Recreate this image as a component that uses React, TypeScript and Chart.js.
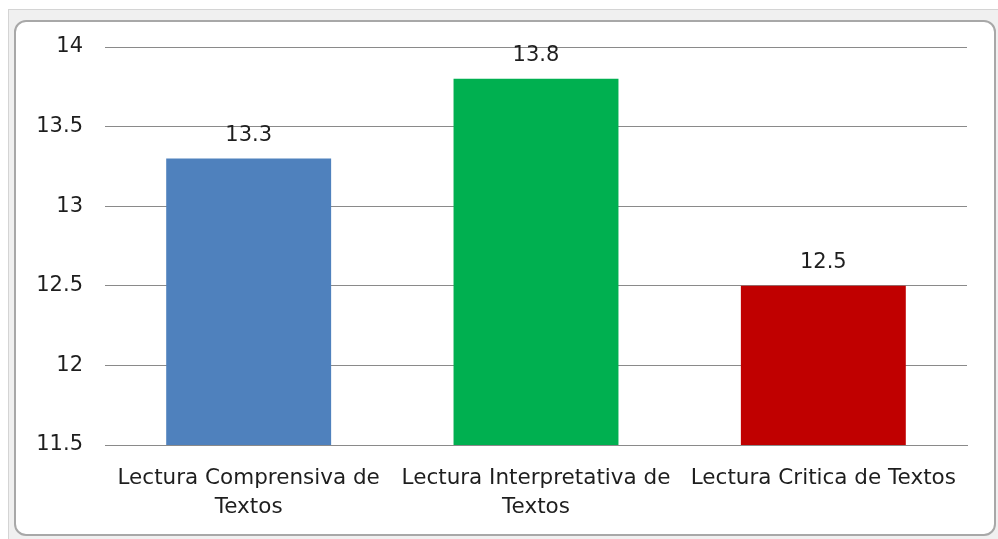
import React, { useEffect, useRef } from "react";
import { Chart, registerables } from "chart.js";

Chart.register(...registerables);

const categories: string[][] = [
  ["Lectura Comprensiva de", "Textos"],
  ["Lectura Interpretativa de", "Textos"],
  ["Lectura Critica de Textos"],
];
const values: number[] = [13.3, 13.8, 12.5];
const barColors: string[] = ["#4F81BD", "#00B050", "#C00000"];
const yMin = 11.5;
const yMax = 14;
const yStep = 0.5;

const FONT = "'DejaVu Sans', sans-serif";

const valueLabels = {
  id: "valueLabels",
  afterDatasetsDraw(chart: any) {
    const ctx = chart.ctx;
    const meta = chart.getDatasetMeta(0);
    ctx.save();
    ctx.font = `21px ${FONT}`;
    ctx.fillStyle = "#1e1e1e";
    ctx.textAlign = "center";
    ctx.textBaseline = "middle";
    meta.data.forEach((el: any, i: number) => {
      ctx.fillText(String(values[i]), el.x, el.y - 23);
    });
    ctx.restore();
  },
};

export default function App() {
  const ref = useRef<HTMLCanvasElement>(null);
  useEffect(() => {
    document.body.style.margin = "0";
    const chart = new Chart(ref.current!, {
      type: "bar",
      data: {
        labels: categories,
        datasets: [
          {
            data: values,
            backgroundColor: barColors,
            borderWidth: 0,
            categoryPercentage: 1,
            barPercentage: 0.574,
          },
        ],
      },
      options: {
        animation: false,
        responsive: false,
        maintainAspectRatio: false,
        layout: { padding: { top: 47, right: 31, left: 0, bottom: 0 } },
        plugins: { legend: { display: false }, tooltip: { enabled: false } },
        scales: {
          y: {
            min: yMin,
            max: yMax,
            ticks: {
              stepSize: yStep,
              padding: 22,
              color: "#1e1e1e",
              font: { family: FONT, size: 21 },
              callback: (v: any) => String(Number(v)),
            },
            grid: { color: "#8a8a8a", lineWidth: 1, drawTicks: false },
            border: { display: false },
            afterFit: (s: any) => {
              s.width = 105;
            },
          },
          x: {
            ticks: {
              padding: 19,
              color: "#1e1e1e",
              maxRotation: 0,
              autoSkip: false,
              font: { family: FONT, size: 21.5, lineHeight: 1.35 },
            },
            grid: { display: false, drawTicks: false },
            border: { display: true, color: "#8a8a8a" },
            afterFit: (s: any) => {
              s.height = 94;
            },
          },
        },
      },
      plugins: [valueLabels],
    });
    return () => chart.destroy();
  }, []);

  return (
    <div style={{ position: "relative", width: 998, height: 539, background: "#fff" }}>
      <div
        style={{
          position: "absolute",
          left: 8,
          top: 9,
          width: 990,
          height: 530,
          background: "#f0f0f0",
          borderLeft: "1px solid #d4d4d4",
          borderTop: "1px solid #d4d4d4",
        }}
      />
      <div
        style={{
          position: "absolute",
          left: 14,
          top: 20,
          width: 978,
          height: 512,
          background: "#fff",
          border: "2px solid #a8a8a8",
          borderRadius: 12,
        }}
      />
      <canvas
        ref={ref}
        width={998}
        height={539}
        style={{ position: "absolute", left: 0, top: 0, width: 998, height: 539 }}
      />
    </div>
  );
}
